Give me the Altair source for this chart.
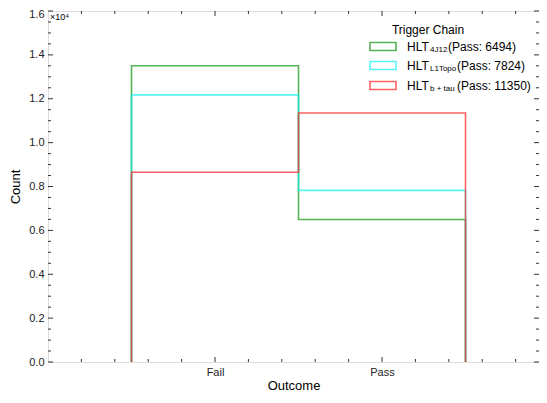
import altair as alt
import pandas as pd

# ---- data ----
categories = ["Fail", "Pass"]
series = ["HLT_4J12", "HLT_L1Topo", "HLT_b+tau"]
fail_counts = [13506, 12176, 8650]
pass_counts = [6494, 7824, 11350]
colors = ["#2ca02c", "#00f0f0", "#ff2020"]
opacities = [0.8, 0.65, 0.7]
legend_sub = ["4J12", "L1Topo", "b + tau"]
legend_rest = ["(Pass: 6494)", "(Pass: 7824)", "(Pass: 11350)"]

x_minor = [-0.8, -0.6, -0.4, -0.2, 0.2, 0.4, 0.6, 0.8, 1.2, 1.4, 1.6, 1.8]
x_major = [0, 1]
y_major = [0, 2000, 4000, 6000, 8000, 10000, 12000, 14000, 16000]
y_minor = [v for v in range(500, 16000, 500) if v % 2000 != 0]

W, H = 491, 351
FONT = "Liberation Sans"

# step outline rows
rows = []
edges = [-0.5, 0.5, 1.5]
for i, s in enumerate(series):
    vals = [fail_counts[i], pass_counts[i]]
    pts = [(edges[0], 0)]
    for b in range(2):
        pts.append((edges[b], vals[b]))
        pts.append((edges[b + 1], vals[b]))
    pts.append((edges[2], 0))
    for k, (xx, yy) in enumerate(pts):
        rows.append({"series": s, "x": xx, "y": yy, "order": k})
step_df = pd.DataFrame(rows)

xscale = alt.Scale(domain=[-1, 1.94], nice=False, zero=False)
yscale = alt.Scale(domain=[0, 16000], nice=False, zero=True)

x_axis = alt.Axis(values=x_major, labelExpr="datum.value == 0 ? 'Fail' : 'Pass'",
                  ticks=False, domain=False, grid=False, labelFont=FONT,
                  labelFontSize=11, labelColor="#222", labelPadding=4,
                  title="Outcome", titleFont=FONT, titleFontSize=13,
                  titleFontWeight="normal", titlePadding=2, titleColor="#000")
y_axis = alt.Axis(values=y_major, labelExpr="format(datum.value/10000, '.1f')",
                  ticks=False, domain=False, grid=False, labelFont=FONT,
                  labelFontSize=11, labelColor="#222", labelPadding=4,
                  labelOffset={"condition": {"test": "datum.value >= 16000", "value": 3}, "value": 0},
                  title="Count", titleFont=FONT, titleFontSize=13,
                  titleFontWeight="normal", titlePadding=6, titleColor="#000")

X = lambda: alt.X("x:Q", scale=xscale, axis=x_axis)
Y = lambda: alt.Y("y:Q", scale=yscale, axis=y_axis)

lines = []
for i, s in enumerate(series):
    d = step_df[step_df.series == s]
    lines.append(
        alt.Chart(d).mark_line(color=colors[i], strokeWidth=1.6, strokeOpacity=opacities[i],
                               interpolate="linear").encode(x=X(), y=Y(), order="order:Q")
    )

def xticks(vals, length):
    df = pd.DataFrame({"x": vals})
    b = alt.Chart(df).mark_rule(color="#333", strokeWidth=1).encode(
        x=X(), y=alt.value(H), y2=alt.value(H - length))
    t = alt.Chart(df).mark_rule(color="#333", strokeWidth=1).encode(
        x=X(), y=alt.value(0), y2=alt.value(length))
    return [b, t]

def yticks(vals, length):
    df = pd.DataFrame({"y": vals})
    l = alt.Chart(df).mark_rule(color="#333", strokeWidth=1).encode(
        y=Y(), x=alt.value(0), x2=alt.value(length))
    r = alt.Chart(df).mark_rule(color="#333", strokeWidth=1).encode(
        y=Y(), x=alt.value(W), x2=alt.value(W - length))
    return [l, r]

tick_layers = xticks(x_minor, 3) + xticks(x_major, 5) + yticks(y_minor, 3) + yticks(y_major, 5)

# ---- legend (manual, for subscripts) ----
leg_rect_x = 322
leg_row_y = [35.5, 54.5, 74.5]
leg_main_x = 359
leg_sub_x = 382
leg_rest_x = [400, 409, 409]
one = pd.DataFrame({"a": [0]})

legend_layers = []
for i, s in enumerate(series):
    cy = leg_row_y[i]
    legend_layers.append(
        alt.Chart(one).mark_rect(fill="white", stroke=colors[i], strokeWidth=1.6,
                                 strokeOpacity=opacities[i]).encode(
            x=alt.value(leg_rect_x), x2=alt.value(leg_rect_x + 26),
            y=alt.value(cy - 4), y2=alt.value(cy + 4))
    )
    legend_layers.append(
        alt.Chart(one).mark_text(font=FONT, fontSize=12, align="left", baseline="middle",
                                 color="#000", text="HLT").encode(
            x=alt.value(leg_main_x), y=alt.value(cy)))
    legend_layers.append(
        alt.Chart(one).mark_text(font=FONT, fontSize=8, align="left", baseline="middle",
                                 color="#000", text=legend_sub[i]).encode(
            x=alt.value(leg_sub_x), y=alt.value(cy + 3.5)))
    legend_layers.append(
        alt.Chart(one).mark_text(font=FONT, fontSize=12, align="left", baseline="middle",
                                 color="#000", text=legend_rest[i]).encode(
            x=alt.value(leg_rest_x[i]), y=alt.value(cy)))

legend_layers.append(
    alt.Chart(one).mark_text(font=FONT, fontSize=12, align="center", baseline="middle",
                             color="#000", text="Trigger Chain").encode(
        x=alt.value(380), y=alt.value(19)))
legend_layers.append(
    alt.Chart(one).mark_text(font=FONT, fontSize=9, align="left", baseline="top",
                             color="#000", text="×10⁴").encode(
        x=alt.value(2), y=alt.value(2)))

chart = alt.layer(*lines, *tick_layers, *legend_layers).properties(
    width=W, height=H,
    padding={"left": 40, "top": 3, "right": 0, "bottom": 32},
    autosize=alt.AutoSizeParams(type="none"),
).configure_view(stroke="#333", strokeWidth=1).configure(background="white")

chart.save("out.html", embed_options={"renderer": "svg", "actions": False})
